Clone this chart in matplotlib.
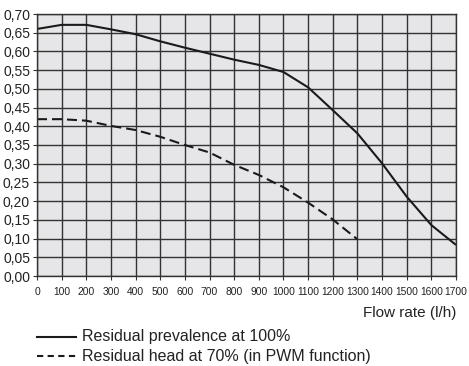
import matplotlib
matplotlib.use("Agg")
import matplotlib.pyplot as plt
from matplotlib.lines import Line2D

# flow rate (l/h) and residual head curves
flow = [0, 100, 200, 300, 400, 500, 600, 700, 800, 900, 1000, 1100, 1200, 1300, 1400, 1500, 1600, 1700]
head_100 = [0.66, 0.671, 0.671, 0.659, 0.646, 0.627, 0.61, 0.594, 0.578, 0.564, 0.545, 0.504, 0.443, 0.381, 0.301, 0.212, 0.136, 0.083]
flow_70 = [0, 100, 200, 300, 400, 500, 600, 700, 800, 900, 1000, 1100, 1200, 1300]
head_70 = [0.419, 0.419, 0.415, 0.401, 0.39, 0.372, 0.35, 0.33, 0.297, 0.27, 0.237, 0.196, 0.151, 0.098]

x_ticks = list(range(0, 1701, 100))
y_ticks = [i * 0.05 for i in range(15)]
y_labels = [("%.2f" % v).replace(".", ",") for v in y_ticks]

legend_labels = ["Residual prevalence at 100%", "Residual head at 70% (in PWM function)"]

font = ["Liberation Sans", "DejaVu Sans"]
ink = "#1a1a1a"
txt = "#222222"

fig = plt.figure(figsize=(4.69, 3.66), dpi=100)
ax = fig.add_axes([37 / 469, 90 / 366, 419 / 469, 262 / 366])
ax.set_facecolor("#e6e6e8")

ax.plot(flow, head_100, color=ink, lw=1.5, solid_capstyle="butt")
ax.plot(flow_70, head_70, color=ink, lw=1.5, dashes=(4.8, 2.4))

ax.set_xlim(0, 1700)
ax.set_ylim(0, 0.70)
ax.set_xticks(x_ticks)
ax.set_yticks(y_ticks)
ax.set_yticklabels(y_labels)
ax.grid(True, color="#333333", lw=1.0)
ax.set_axisbelow(True)
for s in ax.spines.values():
    s.set_color("#333333")
    s.set_linewidth(1.0)
ax.tick_params(direction="out", length=3, width=0.8, color="#333333")
ax.tick_params(axis="y", pad=2)
ax.tick_params(axis="x", pad=5)
for lab in ax.get_yticklabels():
    lab.set_family(font)
    lab.set_fontsize(10)
    lab.set_color(txt)
for lab in ax.get_xticklabels():
    lab.set_family(font)
    lab.set_fontsize(7.4)
    lab.set_color(txt)

fig.text(456 / 469, 1 - 313 / 366, "Flow rate (l/h)", ha="right", va="center",
         family=font, fontsize=11, color=txt)

# legend below the chart
handles = [Line2D([37 / 469, 76 / 469], [1 - 337 / 366] * 2, color=ink, lw=1.5,
                  transform=fig.transFigure),
           Line2D([37 / 469, 76 / 469], [1 - 356 / 366] * 2, color=ink, lw=1.5,
                  dashes=(3.0, 2.1), transform=fig.transFigure)]
for h, label in zip(handles, legend_labels):
    fig.add_artist(h)
    fig.text(82.5 / 469, h.get_ydata()[0], label, ha="left", va="center",
             family=font, fontsize=11.5, color=txt)

fig.savefig("out.png", dpi=100)
